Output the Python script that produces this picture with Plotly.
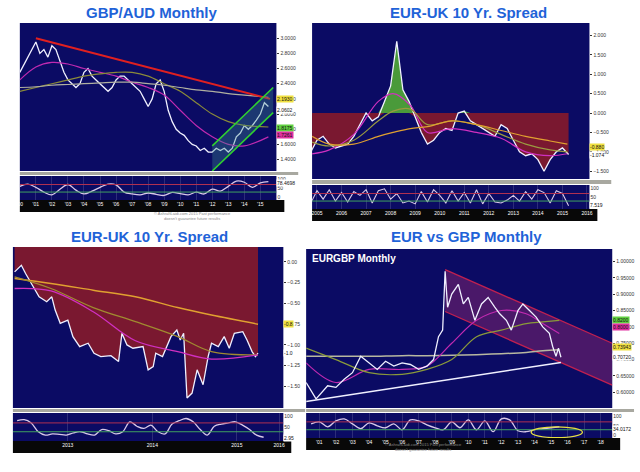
import plotly.graph_objects as go

# ---------------- data ----------------
# Panel 1: GBP/AUD monthly (quarterly closes, from 2000.0)
gbpaud = [2.55, 2.65, 2.75, 2.85, 2.95, 2.80, 2.85, 2.75, 2.90, 2.85, 2.70, 2.55,
          2.45, 2.40, 2.35, 2.40, 2.55, 2.60, 2.50, 2.45, 2.40, 2.35, 2.30, 2.35,
          2.45, 2.50, 2.50, 2.45, 2.40, 2.35, 2.30, 2.20, 2.10, 2.20, 2.40, 2.45,
          2.30, 2.05, 1.90, 1.80, 1.75, 1.72, 1.65, 1.60, 1.58, 1.52, 1.55, 1.50,
          1.50, 1.55, 1.52, 1.55, 1.50, 1.55, 1.70, 1.75, 1.85, 1.80, 1.85, 1.92,
          2.00, 2.15, 2.10]
gbpaud_ma_years = [2000, 2001, 2002, 2003, 2004, 2005, 2006, 2007, 2008, 2009, 2010, 2011, 2012, 2013, 2014, 2015.5]
gbpaud_ma_purple = [2.45, 2.62, 2.68, 2.66, 2.60, 2.55, 2.50, 2.42, 2.35, 2.25, 2.05, 1.85, 1.70, 1.60, 1.58, 1.70]
gbpaud_ma_olive = [2.30, 2.35, 2.40, 2.45, 2.50, 2.53, 2.55, 2.55, 2.50, 2.40, 2.30, 2.15, 2.00, 1.90, 1.85, 1.83]
gbpaud_ma_gray = [2.35, 2.36, 2.38, 2.39, 2.40, 2.41, 2.42, 2.42, 2.40, 2.38, 2.35, 2.32, 2.30, 2.27, 2.25, 2.22]
gbpaud_trend_x = [2001.0, 2015.6]
gbpaud_trend_y = [3.00, 2.20]
gbpaud_chan_x = [2012.0, 2015.8]
gbpaud_chan_low = [1.25, 2.02]
gbpaud_chan_high = [1.58, 2.35]
gbpaud_osc = [60, 72, 55, 30, 15, 45, 70, 40, 20, 35, 55, 72, 68, 30, 20, 15,
              25, 18, 12, 28, 22, 15, 30, 20, 45, 35, 60, 88, 82, 55, 78, 85]
gbpaud_xticks = ["'00", "'01", "'02", "'03", "'04", "'05", "'06", "'07", "'08",
                 "'09", "'10", "'11", "'12", "'13", "'14", "'15"]

# Panel 2: EUR-UK 10 yr spread (quarterly, from 2005.25)
spread = [-1.00, -0.70, -0.60, -0.80, -0.90, -0.85, -0.80, -0.60, -0.30, 0.00, -0.20,
          -0.10, 0.30, 0.70, 1.85, 0.60, 0.30, -0.10, -0.50, -0.80, -0.70, -0.50,
          -0.40, -0.45, 0.00, 0.05, -0.20, -0.30, -0.40, -0.50, -0.60, -0.30, -0.40,
          -0.70, -1.00, -1.10, -1.05, -1.20, -1.50, -1.20, -1.00, -0.90, -1.07]
spread_ma_years = [2005.3, 2006, 2007, 2008, 2008.6, 2009.3, 2010, 2011, 2012, 2013, 2014, 2015, 2015.7]
spread_ma_magenta = [-1.05, -0.95, -0.55, 0.30, 0.50, 0.20, -0.50, -0.40, -0.50, -0.65, -1.00, -1.10, -1.05]
spread_ma_olive = [-0.75, -0.85, -0.70, -0.20, 0.05, 0.10, -0.30, -0.20, -0.30, -0.55, -0.80, -0.95, -1.00]
spread_ma_yellow = [-0.60, -0.80, -0.80, -0.60, -0.50, -0.40, -0.35, -0.20, -0.30, -0.45, -0.60, -0.72, -0.80]
spread_osc = [20, 85, 40, 90, 30, 75, 25, 80, 60, 90, 20, 85, 95, 40, 70, 20, 30, 15, 80, 25, 90, 60,
              20, 85, 30, 75, 20, 90, 15, 70, 25, 20, 35, 60, 30, 80, 40, 90, 75, 20, 85, 70, 5]
spread_years = ["2005", "2006", "2007", "2008", "2009", "2010", "2011", "2012", "2013", "2014", "2015", "2016"]

# Panel 3: EUR-UK 10 yr spread, zoom 2013-2015
zoom_x = [2012.87, 2012.95, 2013.00, 2013.08, 2013.16, 2013.25, 2013.31, 2013.35, 2013.41, 2013.50,
          2013.56, 2013.64, 2013.74, 2013.81, 2013.89, 2014.01, 2014.10, 2014.14, 2014.20, 2014.27,
          2014.39, 2014.45, 2014.51, 2014.54, 2014.62, 2014.72, 2014.79, 2014.83, 2014.87, 2014.91,
          2014.97, 2015.03, 2015.10, 2015.16, 2015.20, 2015.28, 2015.35, 2015.41, 2015.47, 2015.57,
          2015.62, 2015.68, 2015.72, 2015.75]
zoom_y = [-0.12, -0.04, -0.14, -0.28, -0.42, -0.48, -0.42, -0.58, -0.74, -0.70,
          -0.90, -1.02, -0.98, -1.10, -1.14, -1.13, -1.20, -0.86, -1.00, -1.04,
          -1.02, -1.30, -1.26, -1.10, -1.14, -0.90, -0.82, -0.94, -0.86, -1.64,
          -1.58, -1.30, -1.48, -1.14, -0.98, -1.02, -0.90, -1.04, -0.86, -0.84,
          -0.94, -1.08, -1.14, -1.10]
zoom_ma_x = [2012.87, 2013.3, 2013.8, 2014.3, 2014.8, 2015.2, 2015.75]
zoom_ma_yellow = [-0.20, -0.26, -0.34, -0.42, -0.55, -0.64, -0.75]
zoom_ma_olive = [-0.18, -0.32, -0.55, -0.72, -0.90, -1.08, -1.12]
zoom_ma_magenta = [-0.32, -0.35, -0.60, -0.95, -1.08, -1.17, -1.12]
zoom_osc = [80, 85, 70, 30, 15, 20, 18, 15, 25, 30, 20, 15, 40, 35, 20, 30, 75, 55,
            45, 60, 30, 20, 65, 80, 90, 75, 40, 15, 55, 65, 70, 75, 60, 40, 15, 5]

# Panel 4: EURGBP monthly
eurgbp_x = [2000.2, 2000.8, 2001.5, 2002.0, 2002.5, 2003.0, 2003.5, 2004.0, 2004.5, 2005.0,
            2005.5, 2006.0, 2006.5, 2007.0, 2007.5, 2007.9, 2008.2, 2008.45, 2008.6, 2008.75,
            2009.0, 2009.4, 2009.7, 2010.0, 2010.4, 2010.8, 2011.2, 2011.6, 2011.9, 2012.3,
            2012.6, 2013.0, 2013.3, 2013.7, 2014.1, 2014.5, 2014.9, 2015.1, 2015.3, 2015.45, 2015.6]
eurgbp_y = [0.63, 0.58, 0.62, 0.615, 0.64, 0.66, 0.71, 0.69, 0.67, 0.695,
            0.68, 0.69, 0.685, 0.67, 0.68, 0.70, 0.77, 0.79, 0.97, 0.86,
            0.90, 0.93, 0.87, 0.89, 0.82, 0.87, 0.89, 0.86, 0.84, 0.82,
            0.79, 0.85, 0.87, 0.85, 0.83, 0.80, 0.78, 0.74, 0.71, 0.735, 0.707]
eurgbp_ma_x = [2000.2, 2002, 2004, 2006, 2007.5, 2009, 2010.5, 2012, 2013.5, 2014.5, 2015.5]
eurgbp_ma_magenta = [0.69, 0.63, 0.67, 0.67, 0.68, 0.75, 0.82, 0.85, 0.84, 0.81, 0.78]
eurgbp_ma_olive = [0.735, 0.70, 0.66, 0.655, 0.67, 0.70, 0.77, 0.79, 0.81, 0.815, 0.82]
eurgbp_ma_gray = [0.71, 0.71, 0.71, 0.712, 0.712, 0.713, 0.715, 0.718, 0.722, 0.727, 0.73]
eurgbp_chan_x = [2008.6, 2018.7]
eurgbp_chan_high = [0.975, 0.75]
eurgbp_chan_low = [0.847, 0.622]
eurgbp_support_x = [2000.2, 2015.6]
eurgbp_support_y = [0.572, 0.691]
eurgbp_osc = [60, 70, 45, 75, 85, 60, 35, 65, 50, 40, 60, 30, 80, 75, 55, 40,
              30, 70, 40, 80, 30, 75, 20, 85, 80, 25, 20, 30, 35, 40, 45]
eurgbp_xticks = ["'01", "'02", "'03", "'04", "'05", "'06", "'07", "'08", "'09", "'10",
                 "'11", "'12", "'13", "'14", "'15", "'16", "'17", "'18"]

NAVY = '#0b0b64'
WHITE = '#f0f0ff'
BLUE_TITLE = '#1f63d8'
W, H = 640, 472

fig = go.Figure()


def line(n, x, y, color, width=1.2, **kw):
    xa = 'x' if n == 1 else f'x{n}'
    ya = 'y' if n == 1 else f'y{n}'
    fig.add_trace(go.Scatter(x=x, y=y, xaxis=xa, yaxis=ya, mode='lines',
                             line=dict(color=color, width=width), hoverinfo='skip', **kw))


def px_x(p):
    return p / W


def px_y(p):
    return 1 - p / H


# panel 1
q1 = [2000 + i * 0.25 for i in range(len(gbpaud))]
line(1, q1, gbpaud, WHITE, 1.3)
line(1, gbpaud_ma_years, gbpaud_ma_purple, '#c02ab0', line_shape='spline')
line(1, gbpaud_ma_years, gbpaud_ma_olive, '#8a8a3a', line_shape='spline')
line(1, gbpaud_ma_years, gbpaud_ma_gray, '#b0b0a0', line_shape='spline')
line(1, gbpaud_trend_x, gbpaud_trend_y, '#e02020', 2)
line(1, gbpaud_chan_x, gbpaud_chan_low, '#30d030', 1.6)
line(1, gbpaud_chan_x, gbpaud_chan_high, '#30d030', 1.6, fill='tonexty', fillcolor='rgba(60,140,140,0.35)')
line(2, [2000 + i * 0.5 for i in range(len(gbpaud_osc))], gbpaud_osc, '#d8c8e8', 1.3, line_shape='spline')

# panel 2
q2 = [2005.25 + i * 0.25 for i in range(len(spread))]
line(3, q2, [0] * len(spread), 'rgba(0,0,0,0)', 0)
line(3, q2, [min(v, 0) for v in spread], 'rgba(0,0,0,0)', 0, fill='tonexty', fillcolor='#7a1830')
line(3, q2, [0] * len(spread), 'rgba(0,0,0,0)', 0)
line(3, q2, [max(v, 0) for v in spread], 'rgba(0,0,0,0)', 0, fill='tonexty', fillcolor='#4a9a3a')
line(3, q2, spread, WHITE, 1.3)
line(3, spread_ma_years, spread_ma_magenta, '#d030c0', line_shape='spline')
line(3, spread_ma_years, spread_ma_olive, '#9a9a40', line_shape='spline')
line(3, spread_ma_years, spread_ma_yellow, '#e0a030', line_shape='spline')
line(4, q2, spread_osc, '#d8c8e8', 1.1)

# panel 3
line(5, zoom_x, [0.18] * len(zoom_x), 'rgba(0,0,0,0)', 0)
line(5, zoom_x, zoom_y, WHITE, 1.3, fill='tonexty', fillcolor='#7a1830')
line(5, zoom_ma_x, zoom_ma_yellow, '#e0a030', 1.5, line_shape='spline')
line(5, zoom_ma_x, zoom_ma_olive, '#a08a30', 1.3, line_shape='spline')
line(5, zoom_ma_x, zoom_ma_magenta, '#d030c0', 1.3, line_shape='spline')
line(6, [2012.9 + i / 12 for i in range(len(zoom_osc))], zoom_osc, '#d8c8e8', 1.3, line_shape='spline')

# panel 4
line(7, eurgbp_chan_x, eurgbp_chan_low, '#c02050', 1.3)
line(7, eurgbp_chan_x, eurgbp_chan_high, '#c02050', 1.3, fill='tonexty', fillcolor='rgba(150,40,110,0.45)')
line(7, eurgbp_ma_x, eurgbp_ma_gray, '#b8b8a0', 1.5, line_shape='spline')
line(7, eurgbp_ma_x, eurgbp_ma_magenta, '#c02ab0', 1.2, line_shape='spline')
line(7, eurgbp_ma_x, eurgbp_ma_olive, '#8a9a3a', 1.2, line_shape='spline')
line(7, eurgbp_support_x, eurgbp_support_y, WHITE, 1.5)
line(7, eurgbp_x, eurgbp_y, WHITE, 1.3)
line(8, [2000.5 + i * 0.5 for i in range(len(eurgbp_osc))], eurgbp_osc, '#d8c8e8', 1.3, line_shape='spline')

# ---------------- axes ----------------
panels = [
    # (main id, xdom px, main y px, osc y px, xrange, yrange, yticks, yfmt, xtickvals, xticktext)
    (1, (17, 276), (23, 171), (176, 200), [2000.0, 2016.0], [1.25, 3.2],
     [1.4, 1.6, 1.8, 2.0, 2.2, 2.4, 2.6, 2.8, 3.0], '.4f',
     [2000.0 + i for i in range(16)], gbpaud_xticks),
    (3, (312, 592), (23, 179), (185, 209), [2005.3, 2016.6], [-1.7, 2.32],
     [-1.5, -1.0, -0.5, 0.0, 0.5, 1.0, 1.5, 2.0], '.3f',
     [2005.5 + i for i in range(12)], spread_years),
    (5, (10, 283), (247, 408), (413, 441), [2012.85, 2016.05], [-1.76, 0.18],
     [-1.5, -1.25, -1.0, -0.75, -0.5, -0.25, 0.0], '.2f',
     [2013.5, 2014.5, 2015.5, 2016.0], ['2013', '2014', '2015', '2016']),
    (7, (306, 615), (249, 408), (413, 438), [2000.2, 2018.7], [0.552, 1.038],
     [0.6, 0.65, 0.7, 0.75, 0.8, 0.85, 0.9, 0.95, 1.0], '.5f',
     [2001.0 + i for i in range(18)], eurgbp_xticks),
]

layout_axes = {}
shapes = []
for n, xd, my, oy, xr, yr, yt, yf, xtv, xtt in panels:
    o = n + 1
    xdom = [px_x(xd[0]), px_x(xd[1])]
    key = lambda a, k: f'{a}axis' if k == 1 else f'{a}axis{k}'
    layout_axes[key('x', n)] = dict(domain=xdom, range=xr, showticklabels=False, showgrid=False,
                                    zeroline=False, anchor='y' if n == 1 else f'y{n}')
    layout_axes[key('y', n)] = dict(domain=[px_y(my[1]), px_y(my[0])], range=yr, side='right',
                                    tickvals=yt, tickformat=yf, showgrid=False, zeroline=False,
                                    ticks='outside', ticklen=2, tickcolor='#333',
                                    tickfont=dict(size=5, color='#333'),
                                    anchor='x' if n == 1 else f'x{n}')
    layout_axes[key('x', o)] = dict(domain=xdom, range=xr, tickvals=xtv, ticktext=xtt,
                                    showgrid=True, gridcolor='rgba(110,110,160,0.35)', zeroline=False,
                                    tickfont=dict(size=5, color='white'), anchor=f'y{o}')
    layout_axes[key('y', o)] = dict(domain=[px_y(oy[1]), px_y(oy[0])], range=[-12, 115], side='right',
                                    tickvals=[0, 50, 100], showgrid=False, zeroline=False,
                                    tickfont=dict(size=5, color='#333'), anchor=f'x{o}')
    # navy backgrounds
    for y0, y1 in (my, oy):
        shapes.append(dict(type='rect', xref='paper', yref='paper', x0=xdom[0], x1=xdom[1],
                           y0=px_y(y1), y1=px_y(y0), fillcolor=NAVY, line_width=0, layer='below'))
    # gray separator band
    shapes.append(dict(type='rect', xref='paper', yref='paper', x0=xdom[0], x1=px_x(xd[1] + 22),
                       y0=px_y(oy[0] - 1), y1=px_y(my[1] + 1), fillcolor='#a8a8a0', line_width=0))
    # black strip for date labels
    shapes.append(dict(type='rect', xref='paper', yref='paper', x0=xdom[0], x1=px_x(xd[1] + 8),
                       y0=px_y(oy[1] + 12), y1=px_y(oy[1]), fillcolor='#080808', line_width=0,
                       layer='below'))
    # oscillator reference lines
    ox = f'x{o}'
    oyk = f'y{o}'
    shapes.append(dict(type='line', xref=ox, yref=oyk, x0=xr[0], x1=xr[1], y0=70, y1=70,
                       line=dict(color='#b03050', width=1)))
    shapes.append(dict(type='line', xref=ox, yref=oyk, x0=xr[0], x1=xr[1], y0=30, y1=30,
                       line=dict(color='#40a060', width=1)))

shapes.append(dict(type='circle', xref='x8', yref='y8', x0=2013.8, x1=2016.9, y0=-10, y1=45,
                   line=dict(color='#e8e040', width=1.3)))

annotations = []
for text, x, y in [('GBP/AUD Monthly', 150, 12), ('EUR-UK 10 Yr. Spread', 470, 12),
                   ('EUR-UK 10 Yr. Spread', 148, 236), ('EUR vs GBP Monthly', 468, 236)]:
    annotations.append(dict(text=f'<b>{text}</b>', x=px_x(x), y=px_y(y), xref='paper', yref='paper',
                            xanchor='center', yanchor='middle', showarrow=False,
                            font=dict(size=15, color=BLUE_TITLE, family='Arial')))
annotations.append(dict(text='<b>EURGBP Monthly</b>', x=px_x(310), y=px_y(258), xref='paper', yref='paper',
                        xanchor='left', yanchor='middle', showarrow=False,
                        font=dict(size=10, color='white', family='Arial')))

tags = [
    ('y', 2.193, '2.1930', '#f0e040'), ('y', 2.06, '2.0602', '#ffffff'),
    ('y', 1.8175, '1.8175', '#60d040'), ('y', 1.7261, '1.7261', '#e030a0'),
    ('y2', 78.5, '78.4698', '#ffffff'),
    ('y3', -0.88, '-0.880', '#f0e040'), ('y3', -1.074, '-1.074', '#ffffff'), ('y4', 7.5, '7.519', '#ffffff'),
    ('y5', -0.75, '-0.8', '#f0e040'), ('y5', -1.1, '-1.0', '#ffffff'), ('y6', 3, '2.95', '#ffffff'),
    ('y7', 0.822, '0.8200', '#60d040'), ('y7', 0.80, '0.8000', '#e030a0'),
    ('y7', 0.739, '0.73943', '#f0e040'), ('y7', 0.707, '0.70720', '#ffffff'),
    ('y8', 34, '34.0172', '#ffffff'),
]
for yref, yv, text, col in tags:
    xref = yref.replace('y', 'x') + ' domain'
    annotations.append(dict(text=text, x=1.0, y=yv, xref=xref, yref=yref, xanchor='left', showarrow=False,
                            bgcolor=col, font=dict(size=5, color='#111'), borderpad=0))

for x, y in [(150, 216), (465, 454)]:
    annotations.append(dict(text='© AshraftLaidi.com 2015 Past performance<br>doesn\'t guarantee future results',
                            x=px_x(x), y=px_y(y), xref='paper', yref='paper', showarrow=False,
                            font=dict(size=4, color='#888')))

fig.update_layout(width=W, height=H, margin=dict(l=0, r=0, t=0, b=0), paper_bgcolor='white',
                  plot_bgcolor='rgba(0,0,0,0)', showlegend=False, shapes=shapes,
                  annotations=annotations, font=dict(family='Arial'), **layout_axes)

# page body has a default margin; drop it so the figure fills the window
fig.write_html("out.html", config={'displayModeBar': False},
               post_script="document.body.style.margin='0';")
